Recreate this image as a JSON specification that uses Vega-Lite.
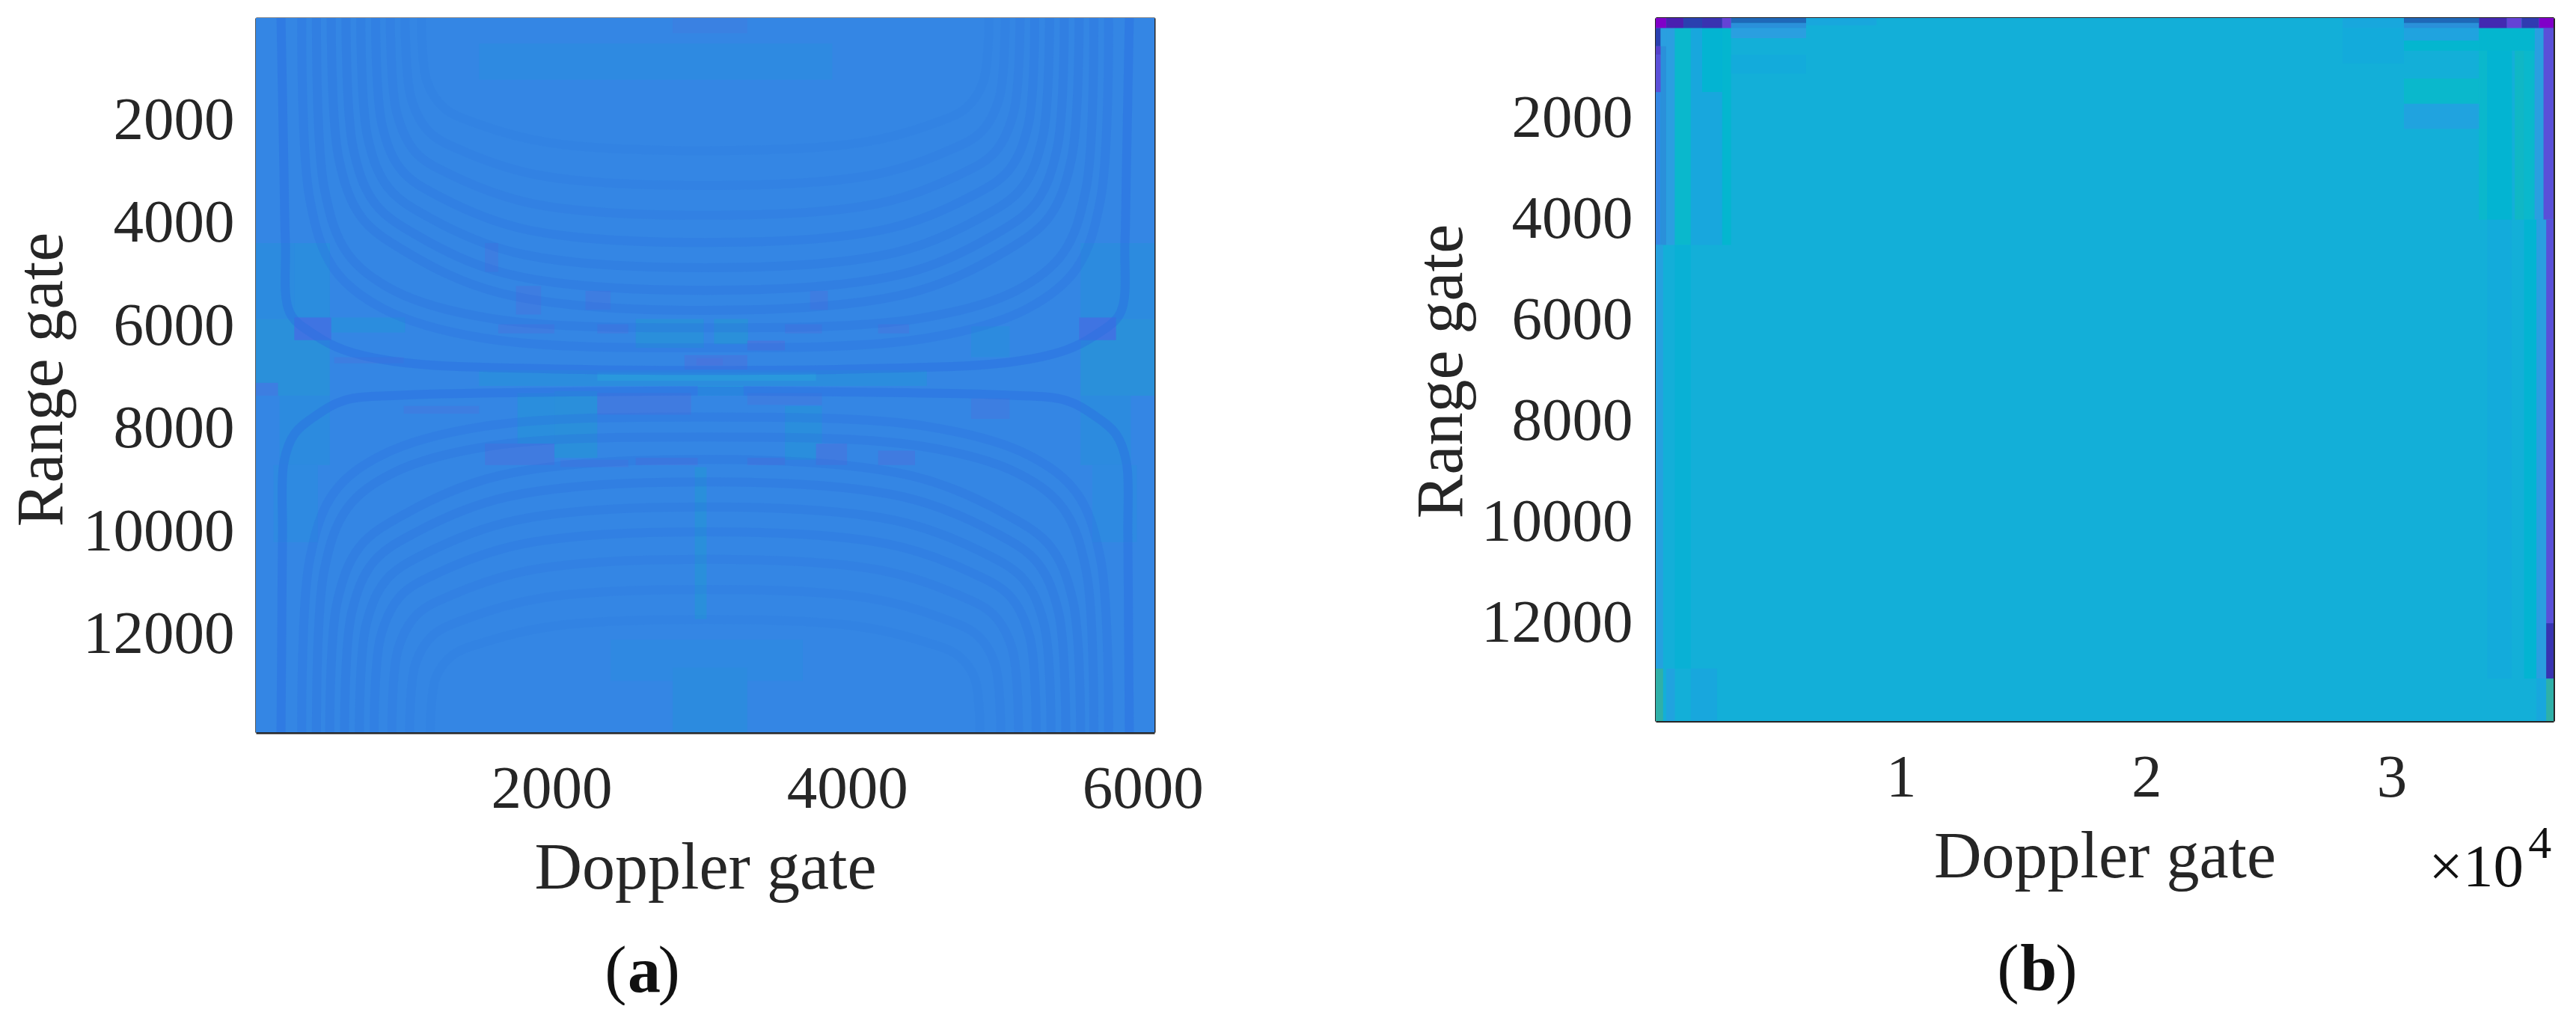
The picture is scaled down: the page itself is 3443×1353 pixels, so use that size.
{"$schema":"https://vega.github.io/schema/vega-lite/v6.json","background":"white","padding":{"left":12,"top":22,"right":0,"bottom":0},"spacing":274,"config":{"view":{"stroke":null},"font":"Liberation Serif","axis":{"labelFont":"Liberation Serif","titleFont":"Liberation Serif","labelFontSize":81,"titleFontSize":88,"labelColor":"#262626","titleColor":"#262626","titleFontWeight":"normal","domainColor":"#262626","tickColor":"#262626","grid":false,"tickSize":-12,"tickWidth":2.5,"zindex":1,"labelOverlap":false,"labelFlush":false,"labelLimit":500}},
"datasets":{
"aCells":[
{"x":0,"x2":6080,"y":0,"y2":13900,"v":0.42},
{"x":2820,"x2":3325,"y":0,"y2":300,"v":0.4},
{"x":1510,"x2":3900,"y":500,"y2":1200,"v":0.45},
{"x":0,"x2":500,"y":4380,"y2":5860,"v":0.46},
{"x":5580,"x2":6080,"y":4380,"y2":5860,"v":0.46},
{"x":0,"x2":500,"y":5860,"y2":7350,"v":0.5},
{"x":5580,"x2":6080,"y":5860,"y2":7350,"v":0.5},
{"x":0,"x2":150,"y":7100,"y2":7350,"v":0.39},
{"x":500,"x2":1010,"y":5830,"y2":6120,"v":0.47},
{"x":260,"x2":510,"y":5830,"y2":6270,"v":0.34},
{"x":5570,"x2":5820,"y":5830,"y2":6270,"v":0.34},
{"x":260,"x2":500,"y":4380,"y2":5800,"v":0.47},
{"x":160,"x2":500,"y":7350,"y2":8700,"v":0.46},
{"x":5580,"x2":5920,"y":7350,"y2":8700,"v":0.46},
{"x":120,"x2":420,"y":8700,"y2":10200,"v":0.45},
{"x":5660,"x2":5960,"y":8700,"y2":10200,"v":0.45},
{"x":1510,"x2":4540,"y":6850,"y2":7160,"v":0.47},
{"x":2310,"x2":3790,"y":6900,"y2":7060,"v":0.52},
{"x":2570,"x2":3030,"y":5860,"y2":6420,"v":0.49},
{"x":3100,"x2":3330,"y":5860,"y2":6350,"v":0.5},
{"x":1770,"x2":2020,"y":7300,"y2":8560,"v":0.48},
{"x":2020,"x2":2310,"y":7260,"y2":8560,"v":0.49},
{"x":3580,"x2":3830,"y":7550,"y2":8600,"v":0.48},
{"x":2990,"x2":3300,"y":7160,"y2":7350,"v":0.52},
{"x":4840,"x2":5100,"y":6000,"y2":6600,"v":0.46},
{"x":2970,"x2":3050,"y":8740,"y2":11700,"v":0.49},
{"x":2400,"x2":3700,"y":12100,"y2":12900,"v":0.44},
{"x":2820,"x2":3325,"y":12640,"y2":13900,"v":0.46},
{"x":1760,"x2":1930,"y":5215,"y2":5770,"v":0.385},
{"x":2230,"x2":2400,"y":5310,"y2":5680,"v":0.385},
{"x":1640,"x2":2020,"y":5960,"y2":6140,"v":0.385},
{"x":2310,"x2":2520,"y":5960,"y2":6140,"v":0.385},
{"x":3325,"x2":3580,"y":6280,"y2":6470,"v":0.37},
{"x":3580,"x2":3830,"y":5960,"y2":6140,"v":0.385},
{"x":3750,"x2":3870,"y":5310,"y2":5680,"v":0.385},
{"x":4210,"x2":4420,"y":5960,"y2":6140,"v":0.385},
{"x":2900,"x2":3325,"y":6560,"y2":6840,"v":0.38},
{"x":2980,"x2":3160,"y":6620,"y2":6760,"v":0.36},
{"x":1550,"x2":1640,"y":4380,"y2":4940,"v":0.39},
{"x":2310,"x2":2945,"y":7300,"y2":7720,"v":0.38},
{"x":3325,"x2":3830,"y":7300,"y2":7530,"v":0.39},
{"x":1550,"x2":2020,"y":8280,"y2":8700,"v":0.38},
{"x":2060,"x2":2520,"y":8600,"y2":8740,"v":0.39},
{"x":2570,"x2":2990,"y":8560,"y2":8700,"v":0.38},
{"x":3325,"x2":3580,"y":8560,"y2":8700,"v":0.38},
{"x":3790,"x2":4000,"y":8280,"y2":8700,"v":0.38},
{"x":4210,"x2":4460,"y":8420,"y2":8700,"v":0.38},
{"x":4840,"x2":5100,"y":7400,"y2":7800,"v":0.39},
{"x":530,"x2":1000,"y":6600,"y2":6720,"v":0.39},
{"x":1000,"x2":1510,"y":7550,"y2":7700,"v":0.39}
],
"aRings":[
{"r":"u1","s":0.85,"x":170,"y":0},{"r":"u1","s":0.85,"x":190,"y":3000},{"r":"u1","s":0.85,"x":200,"y":4374},{"r":"u1","s":0.85,"x":230,"y":5735},{"r":"u1","s":0.85,"x":400,"y":6172},{"r":"u1","s":0.85,"x":600,"y":6464},{"r":"u1","s":0.85,"x":1000,"y":6707},{"r":"u1","s":0.85,"x":2000,"y":6830},{"r":"u1","s":0.85,"x":3040,"y":6860},{"r":"u1","s":0.85,"x":4080,"y":6830},{"r":"u1","s":0.85,"x":5080,"y":6707},{"r":"u1","s":0.85,"x":5480,"y":6464},{"r":"u1","s":0.85,"x":5680,"y":6172},{"r":"u1","s":0.85,"x":5850,"y":5735},{"r":"u1","s":0.85,"x":5880,"y":4374},{"r":"u1","s":0.85,"x":5890,"y":3000},{"r":"u1","s":0.85,"x":5910,"y":0},
{"r":"u2","s":0.55,"x":310,"y":0},{"r":"u2","s":0.55,"x":365,"y":3530},{"r":"u2","s":0.55,"x":528,"y":4880},{"r":"u2","s":0.55,"x":856,"y":5650},{"r":"u2","s":0.55,"x":1538,"y":6230},{"r":"u2","s":0.55,"x":3040,"y":6420},{"r":"u2","s":0.55,"x":4542,"y":6230},{"r":"u2","s":0.55,"x":5224,"y":5650},{"r":"u2","s":0.55,"x":5552,"y":4880},{"r":"u2","s":0.55,"x":5715,"y":3530},{"r":"u2","s":0.55,"x":5770,"y":0},
{"r":"u3","s":0.5,"x":410,"y":0},{"r":"u3","s":0.5,"x":463,"y":3317},{"r":"u3","s":0.5,"x":620,"y":4583},{"r":"u3","s":0.5,"x":936,"y":5306},{"r":"u3","s":0.5,"x":1594,"y":5849},{"r":"u3","s":0.5,"x":3040,"y":6030},{"r":"u3","s":0.5,"x":4486,"y":5849},{"r":"u3","s":0.5,"x":5144,"y":5306},{"r":"u3","s":0.5,"x":5460,"y":4583},{"r":"u3","s":0.5,"x":5617,"y":3317},{"r":"u3","s":0.5,"x":5670,"y":0},
{"r":"u4","s":0.5,"x":510,"y":0},{"r":"u4","s":0.5,"x":561,"y":2731},{"r":"u4","s":0.5,"x":712,"y":3869},{"r":"u4","s":0.5,"x":1016,"y":4552},{"r":"u4","s":0.5,"x":1648,"y":5349},{"r":"u4","s":0.5,"x":3040,"y":5690},{"r":"u4","s":0.5,"x":4432,"y":5349},{"r":"u4","s":0.5,"x":5064,"y":4552},{"r":"u4","s":0.5,"x":5368,"y":3869},{"r":"u4","s":0.5,"x":5519,"y":2731},{"r":"u4","s":0.5,"x":5570,"y":0},
{"r":"u5","s":0.5,"x":610,"y":0},{"r":"u5","s":0.5,"x":659,"y":2544},{"r":"u5","s":0.5,"x":804,"y":3604},{"r":"u5","s":0.5,"x":1096,"y":4240},{"r":"u5","s":0.5,"x":1704,"y":4982},{"r":"u5","s":0.5,"x":3040,"y":5300},{"r":"u5","s":0.5,"x":4376,"y":4982},{"r":"u5","s":0.5,"x":4984,"y":4240},{"r":"u5","s":0.5,"x":5276,"y":3604},{"r":"u5","s":0.5,"x":5421,"y":2544},{"r":"u5","s":0.5,"x":5470,"y":0},
{"r":"u6","s":0.45,"x":710,"y":0},{"r":"u6","s":0.45,"x":757,"y":2333},{"r":"u6","s":0.45,"x":896,"y":3305},{"r":"u6","s":0.45,"x":1176,"y":3888},{"r":"u6","s":0.45,"x":1758,"y":4568},{"r":"u6","s":0.45,"x":3040,"y":4860},{"r":"u6","s":0.45,"x":4322,"y":4568},{"r":"u6","s":0.45,"x":4904,"y":3888},{"r":"u6","s":0.45,"x":5184,"y":3305},{"r":"u6","s":0.45,"x":5323,"y":2333},{"r":"u6","s":0.45,"x":5370,"y":0},
{"r":"u7","s":0.4,"x":810,"y":0},{"r":"u7","s":0.4,"x":855,"y":2098},{"r":"u7","s":0.4,"x":988,"y":2972},{"r":"u7","s":0.4,"x":1256,"y":3496},{"r":"u7","s":0.4,"x":1814,"y":4108},{"r":"u7","s":0.4,"x":3040,"y":4370},{"r":"u7","s":0.4,"x":4266,"y":4108},{"r":"u7","s":0.4,"x":4824,"y":3496},{"r":"u7","s":0.4,"x":5092,"y":2972},{"r":"u7","s":0.4,"x":5225,"y":2098},{"r":"u7","s":0.4,"x":5270,"y":0},
{"r":"u8","s":0.33,"x":910,"y":0},{"r":"u8","s":0.33,"x":953,"y":1843},{"r":"u8","s":0.33,"x":1080,"y":2611},{"r":"u8","s":0.33,"x":1336,"y":3072},{"r":"u8","s":0.33,"x":1868,"y":3610},{"r":"u8","s":0.33,"x":3040,"y":3840},{"r":"u8","s":0.33,"x":4212,"y":3610},{"r":"u8","s":0.33,"x":4744,"y":3072},{"r":"u8","s":0.33,"x":5000,"y":2611},{"r":"u8","s":0.33,"x":5127,"y":1843},{"r":"u8","s":0.33,"x":5170,"y":0},
{"r":"u9","s":0.25,"x":1010,"y":0},{"r":"u9","s":0.25,"x":1051,"y":1565},{"r":"u9","s":0.25,"x":1172,"y":2217},{"r":"u9","s":0.25,"x":1416,"y":2608},{"r":"u9","s":0.25,"x":1924,"y":3064},{"r":"u9","s":0.25,"x":3040,"y":3260},{"r":"u9","s":0.25,"x":4156,"y":3064},{"r":"u9","s":0.25,"x":4664,"y":2608},{"r":"u9","s":0.25,"x":4908,"y":2217},{"r":"u9","s":0.25,"x":5029,"y":1565},{"r":"u9","s":0.25,"x":5070,"y":0},
{"r":"u10","s":0.18,"x":1120,"y":0},{"r":"u10","s":0.18,"x":1158,"y":1238},{"r":"u10","s":0.18,"x":1274,"y":1754},{"r":"u10","s":0.18,"x":1504,"y":2064},{"r":"u10","s":0.18,"x":1984,"y":2425},{"r":"u10","s":0.18,"x":3040,"y":2580},{"r":"u10","s":0.18,"x":4096,"y":2425},{"r":"u10","s":0.18,"x":4576,"y":2064},{"r":"u10","s":0.18,"x":4806,"y":1754},{"r":"u10","s":0.18,"x":4922,"y":1238},{"r":"u10","s":0.18,"x":4960,"y":0},
{"r":"l1","s":0.85,"x":170,"y":13900},{"r":"l1","s":0.85,"x":175,"y":12000},{"r":"l1","s":0.85,"x":180,"y":10050},{"r":"l1","s":0.85,"x":190,"y":8640},{"r":"l1","s":0.85,"x":260,"y":8100},{"r":"l1","s":0.85,"x":400,"y":7750},{"r":"l1","s":0.85,"x":600,"y":7440},{"r":"l1","s":0.85,"x":1000,"y":7340},{"r":"l1","s":0.85,"x":2000,"y":7280},{"r":"l1","s":0.85,"x":3040,"y":7260},{"r":"l1","s":0.85,"x":4080,"y":7280},{"r":"l1","s":0.85,"x":5080,"y":7340},{"r":"l1","s":0.85,"x":5480,"y":7440},{"r":"l1","s":0.85,"x":5680,"y":7750},{"r":"l1","s":0.85,"x":5820,"y":8100},{"r":"l1","s":0.85,"x":5890,"y":8640},{"r":"l1","s":0.85,"x":5900,"y":10050},{"r":"l1","s":0.85,"x":5905,"y":12000},{"r":"l1","s":0.85,"x":5910,"y":13900},
{"r":"l2","s":0.55,"x":310,"y":13900},{"r":"l2","s":0.55,"x":365,"y":10526},{"r":"l2","s":0.55,"x":528,"y":9237},{"r":"l2","s":0.55,"x":856,"y":8501},{"r":"l2","s":0.55,"x":1538,"y":7949},{"r":"l2","s":0.55,"x":3040,"y":7765},{"r":"l2","s":0.55,"x":4542,"y":7949},{"r":"l2","s":0.55,"x":5224,"y":8501},{"r":"l2","s":0.55,"x":5552,"y":9237},{"r":"l2","s":0.55,"x":5715,"y":10526},{"r":"l2","s":0.55,"x":5770,"y":13900},
{"r":"l3","s":0.5,"x":410,"y":13900},{"r":"l3","s":0.5,"x":463,"y":10740},{"r":"l3","s":0.5,"x":620,"y":9533},{"r":"l3","s":0.5,"x":936,"y":8844},{"r":"l3","s":0.5,"x":1594,"y":8326},{"r":"l3","s":0.5,"x":3040,"y":8154},{"r":"l3","s":0.5,"x":4486,"y":8326},{"r":"l3","s":0.5,"x":5144,"y":8844},{"r":"l3","s":0.5,"x":5460,"y":9533},{"r":"l3","s":0.5,"x":5617,"y":10740},{"r":"l3","s":0.5,"x":5670,"y":13900},
{"r":"l4","s":0.5,"x":500,"y":13900},{"r":"l4","s":0.5,"x":551,"y":11352},{"r":"l4","s":0.5,"x":703,"y":10290},{"r":"l4","s":0.5,"x":1008,"y":9653},{"r":"l4","s":0.5,"x":1643,"y":8910},{"r":"l4","s":0.5,"x":3040,"y":8591},{"r":"l4","s":0.5,"x":4437,"y":8910},{"r":"l4","s":0.5,"x":5072,"y":9653},{"r":"l4","s":0.5,"x":5377,"y":10290},{"r":"l4","s":0.5,"x":5529,"y":11352},{"r":"l4","s":0.5,"x":5580,"y":13900},
{"r":"l5","s":0.5,"x":600,"y":13900},{"r":"l5","s":0.5,"x":649,"y":11562},{"r":"l5","s":0.5,"x":795,"y":10588},{"r":"l5","s":0.5,"x":1088,"y":10003},{"r":"l5","s":0.5,"x":1698,"y":9321},{"r":"l5","s":0.5,"x":3040,"y":9029},{"r":"l5","s":0.5,"x":4382,"y":9321},{"r":"l5","s":0.5,"x":4992,"y":10003},{"r":"l5","s":0.5,"x":5285,"y":10588},{"r":"l5","s":0.5,"x":5431,"y":11562},{"r":"l5","s":0.5,"x":5480,"y":13900},
{"r":"l6","s":0.45,"x":700,"y":13900},{"r":"l6","s":0.45,"x":747,"y":11795},{"r":"l6","s":0.45,"x":887,"y":10918},{"r":"l6","s":0.45,"x":1168,"y":10392},{"r":"l6","s":0.45,"x":1753,"y":9778},{"r":"l6","s":0.45,"x":3040,"y":9515},{"r":"l6","s":0.45,"x":4327,"y":9778},{"r":"l6","s":0.45,"x":4912,"y":10392},{"r":"l6","s":0.45,"x":5193,"y":10918},{"r":"l6","s":0.45,"x":5333,"y":11795},{"r":"l6","s":0.45,"x":5380,"y":13900},
{"r":"l7","s":0.4,"x":800,"y":13900},{"r":"l7","s":0.4,"x":845,"y":12028},{"r":"l7","s":0.4,"x":979,"y":11248},{"r":"l7","s":0.4,"x":1248,"y":10780},{"r":"l7","s":0.4,"x":1808,"y":10234},{"r":"l7","s":0.4,"x":3040,"y":10000},{"r":"l7","s":0.4,"x":4272,"y":10234},{"r":"l7","s":0.4,"x":4832,"y":10780},{"r":"l7","s":0.4,"x":5101,"y":11248},{"r":"l7","s":0.4,"x":5235,"y":12028},{"r":"l7","s":0.4,"x":5280,"y":13900},
{"r":"l8","s":0.33,"x":920,"y":13900},{"r":"l8","s":0.33,"x":962,"y":12285},{"r":"l8","s":0.33,"x":1090,"y":11612},{"r":"l8","s":0.33,"x":1344,"y":11208},{"r":"l8","s":0.33,"x":1874,"y":10737},{"r":"l8","s":0.33,"x":3040,"y":10535},{"r":"l8","s":0.33,"x":4206,"y":10737},{"r":"l8","s":0.33,"x":4736,"y":11208},{"r":"l8","s":0.33,"x":4990,"y":11612},{"r":"l8","s":0.33,"x":5118,"y":12285},{"r":"l8","s":0.33,"x":5160,"y":13900},
{"r":"l9","s":0.25,"x":1040,"y":13900},{"r":"l9","s":0.25,"x":1080,"y":12565},{"r":"l9","s":0.25,"x":1200,"y":12009},{"r":"l9","s":0.25,"x":1440,"y":11675},{"r":"l9","s":0.25,"x":1940,"y":11286},{"r":"l9","s":0.25,"x":3040,"y":11119},{"r":"l9","s":0.25,"x":4140,"y":11286},{"r":"l9","s":0.25,"x":4640,"y":11675},{"r":"l9","s":0.25,"x":4880,"y":12009},{"r":"l9","s":0.25,"x":5000,"y":12565},{"r":"l9","s":0.25,"x":5040,"y":13900},
{"r":"l10","s":0.18,"x":1180,"y":13900},{"r":"l10","s":0.18,"x":1217,"y":12845},{"r":"l10","s":0.18,"x":1329,"y":12405},{"r":"l10","s":0.18,"x":1552,"y":12142},{"r":"l10","s":0.18,"x":2017,"y":11834},{"r":"l10","s":0.18,"x":3040,"y":11702},{"r":"l10","s":0.18,"x":4063,"y":11834},{"r":"l10","s":0.18,"x":4528,"y":12142},{"r":"l10","s":0.18,"x":4751,"y":12405},{"r":"l10","s":0.18,"x":4863,"y":12845},{"r":"l10","s":0.18,"x":4900,"y":13900}
],
"aText":[{"t":"(","x":2435,"y":18570,"b":"n"},{"t":"a","x":2628,"y":18570,"b":"b"},{"t":")","x":2795,"y":18570,"b":"n"}],
"bCells":[
{"x":0,"x2":36600,"y":0,"y2":13940,"v":0.62},
{"x":0,"x2":200,"y":200,"y2":4500,"v":0.42},
{"x":200,"x2":430,"y":200,"y2":4500,"v":0.5},
{"x":430,"x2":780,"y":200,"y2":4500,"v":0.54},
{"x":780,"x2":1430,"y":200,"y2":4500,"v":0.7},
{"x":1430,"x2":2710,"y":200,"y2":4500,"v":0.58},
{"x":2710,"x2":3070,"y":200,"y2":4500,"v":0.68},
{"x":0,"x2":300,"y":4500,"y2":12900,"v":0.55},
{"x":780,"x2":1430,"y":4500,"y2":12900,"v":0.64},
{"x":0,"x2":300,"y":12900,"y2":13940,"v":0.8},
{"x":430,"x2":780,"y":12900,"y2":13940,"v":0.56},
{"x":1430,"x2":2500,"y":12900,"y2":13940,"v":0.58},
{"x":33560,"x2":33900,"y":200,"y2":4000,"v":0.7},
{"x":33900,"x2":34900,"y":200,"y2":4000,"v":0.66},
{"x":35020,"x2":35400,"y":200,"y2":4000,"v":0.72},
{"x":35400,"x2":35830,"y":200,"y2":4000,"v":0.7},
{"x":35830,"x2":36190,"y":200,"y2":4000,"v":0.54},
{"x":36190,"x2":36600,"y":200,"y2":4000,"v":0.07},
{"x":33900,"x2":34900,"y":4000,"y2":13100,"v":0.6},
{"x":35400,"x2":35900,"y":4000,"y2":13100,"v":0.66},
{"x":35900,"x2":36300,"y":4000,"y2":13100,"v":0.54},
{"x":36300,"x2":36600,"y":4000,"y2":12000,"v":0.07},
{"x":36300,"x2":36600,"y":12000,"y2":13100,"v":0.15},
{"x":35900,"x2":36300,"y":13100,"y2":13940,"v":0.58},
{"x":36300,"x2":36600,"y":13100,"y2":13940,"v":0.8},
{"x":0,"x2":200,"y":200,"y2":560,"v":0.2},
{"x":0,"x2":200,"y":560,"y2":730,"v":0.08},
{"x":0,"x2":200,"y":730,"y2":1470,"v":0.07},
{"x":200,"x2":430,"y":200,"y2":560,"v":0.54},
{"x":3070,"x2":6130,"y":200,"y2":400,"v":0.54},
{"x":3070,"x2":6130,"y":730,"y2":1100,"v":0.6},
{"x":1890,"x2":2710,"y":200,"y2":1470,"v":0.66},
{"x":30500,"x2":33560,"y":200,"y2":450,"v":0.56},
{"x":30500,"x2":33560,"y":450,"y2":650,"v":0.68},
{"x":30500,"x2":33560,"y":1200,"y2":1700,"v":0.7},
{"x":30500,"x2":33560,"y":1700,"y2":2200,"v":0.56},
{"x":33560,"x2":35830,"y":200,"y2":650,"v":0.68},
{"x":28000,"x2":30500,"y":200,"y2":900,"v":0.6},
{"x":6130,"x2":9000,"y":0,"y2":150,"v":0.58},
{"x":28000,"x2":30500,"y":0,"y2":200,"v":0.58},
{"x":3070,"x2":6130,"y":100,"y2":200,"v":0.5},
{"x":3070,"x2":6130,"y":0,"y2":100,"v":0.25},
{"x":30500,"x2":33560,"y":100,"y2":200,"v":0.5},
{"x":30500,"x2":33560,"y":0,"y2":100,"v":0.25},
{"x":0,"x2":430,"y":0,"y2":200,"v":0},
{"x":430,"x2":1130,"y":0,"y2":200,"v":0.1},
{"x":1130,"x2":1890,"y":0,"y2":200,"v":0.2},
{"x":1890,"x2":2710,"y":0,"y2":200,"v":0.15},
{"x":2710,"x2":3070,"y":0,"y2":200,"v":0.05},
{"x":33560,"x2":34700,"y":0,"y2":200,"v":0.12},
{"x":34700,"x2":35300,"y":0,"y2":200,"v":0.05},
{"x":35300,"x2":36000,"y":0,"y2":200,"v":0.18},
{"x":36000,"x2":36600,"y":0,"y2":200,"v":0}
],
"bText":[{"t":"(","x":14360,"y":18900,"b":"n","f":88},{"t":"b","x":15610,"y":18900,"b":"b","f":88},{"t":")","x":16740,"y":18900,"b":"n","f":88},{"t":"×10","x":33445,"y":16855,"b":"x","f":81},{"t":"4","x":36040,"y":16365,"b":"s","f":62}]
},
"hconcat":[
{"width":1201,"height":955,
"resolve":{"axis":{"x":"independent","y":"independent"}},
"layer":[
{"data":{"name":"aCells"},"mark":{"type":"rect","stroke":null},
"encoding":{"x":{"field":"x","type":"quantitative","scale":{"domain":[0,6080],"nice":false,"zero":false},"axis":{"values":[2000,4000,6000],"title":"Doppler gate","domainWidth":4,"labelPadding":48,"titlePadding":22,"format":"d"}},"x2":{"field":"x2"},"y":{"field":"y","type":"quantitative","scale":{"domain":[0,13900],"reverse":true,"nice":false,"zero":false},"axis":{"values":[2000,4000,6000,8000,10000,12000],"title":"Range gate","domainWidth":2.5,"labelPadding":41,"format":"d","titleX":-242,"titleY":483}},"y2":{"field":"y2"},"color":{"field":"v","type":"quantitative","legend":null,"scale":{"domain":[0,0.07,0.1,0.2,0.25,0.3,0.36,0.42,0.5,0.54,0.62,0.7,0.8,1],"range":["#8000c8","#5a50d8","#4a20b0","#2a40b0","#1f68b8","#2f70ea","#4676de","#3486e4","#2a90da","#2a9fe0","#13afd8","#0ab8cc","#2fb0a8","#60a890"]}}}},
{"data":{"name":"aRings"},"mark":{"type":"line","interpolate":"catmull-rom","strokeWidth":12,"stroke":"#2a6fe0","clip":true},
"encoding":{"x":{"field":"x","type":"quantitative","scale":{"domain":[0,6080],"nice":false,"zero":false},"axis":null},"y":{"field":"y","type":"quantitative","scale":{"domain":[0,13900],"reverse":true,"nice":false,"zero":false},"axis":null},"detail":{"field":"r"},"opacity":{"field":"s","type":"quantitative","legend":null,"scale":{"domain":[0,1],"range":[0,0.55]}}}},
{"data":{"name":"aText"},"transform":[{"filter":"datum.b=='n'"}],"mark":{"type":"text","font":"Liberation Serif","fontSize":88,"color":"#111111","baseline":"middle","align":"center","clip":false},
"encoding":{"x":{"field":"x","type":"quantitative","scale":{"domain":[0,6080],"nice":false,"zero":false},"axis":{"orient":"top","values":[2000,4000,6000],"labels":false,"title":null,"domainWidth":2}},"y":{"field":"y","type":"quantitative","scale":{"domain":[0,13900],"reverse":true,"nice":false,"zero":false},"axis":{"orient":"right","values":[2000,4000,6000,8000,10000,12000],"labels":false,"title":null,"domainWidth":2}},"text":{"field":"t"}}},
{"data":{"name":"aText"},"transform":[{"filter":"datum.b=='b'"}],"mark":{"type":"text","font":"Liberation Serif","fontSize":88,"fontWeight":"bold","color":"#111111","baseline":"middle","align":"center","clip":false},
"encoding":{"x":{"field":"x","type":"quantitative","scale":{"domain":[0,6080],"nice":false,"zero":false},"axis":null},"y":{"field":"y","type":"quantitative","scale":{"domain":[0,13900],"reverse":true,"nice":false,"zero":false},"axis":null},"text":{"field":"t"}}}
]},
{"width":1200,"height":940,
"resolve":{"axis":{"x":"independent","y":"independent"}},
"layer":[
{"data":{"name":"bCells"},"mark":{"type":"rect","stroke":null},
"encoding":{"x":{"field":"x","type":"quantitative","scale":{"domain":[0,36600],"nice":false,"zero":false},"axis":{"values":[10000,20000,30000],"labelExpr":"datum.value/10000","title":"Doppler gate","domainWidth":3,"labelPadding":48,"titlePadding":22,"tickWidth":2}},"x2":{"field":"x2"},"y":{"field":"y","type":"quantitative","scale":{"domain":[0,13940],"reverse":true,"nice":false,"zero":false},"axis":{"values":[2000,4000,6000,8000,10000,12000],"title":"Range gate","domainWidth":3,"labelPadding":43,"format":"d","titleX":-242,"titleY":472}},"y2":{"field":"y2"},"color":{"field":"v","type":"quantitative","legend":null,"scale":{"domain":[0,0.07,0.1,0.2,0.25,0.3,0.36,0.42,0.5,0.54,0.62,0.7,0.8,1],"range":["#8000c8","#5a50d8","#4a20b0","#2a40b0","#1f68b8","#2f70ea","#4676de","#3486e4","#2a90da","#2a9fe0","#13afd8","#0ab8cc","#2fb0a8","#60a890"]}}}},
{"data":{"name":"bText"},"transform":[{"filter":"datum.b!='b'"}],"mark":{"type":"text","font":"Liberation Serif","color":"#111111","baseline":"middle","align":"center","clip":false},
"encoding":{"x":{"field":"x","type":"quantitative","scale":{"domain":[0,36600],"nice":false,"zero":false},"axis":{"orient":"top","values":[10000,20000,30000],"labels":false,"title":null,"domainWidth":3,"tickWidth":2}},"y":{"field":"y","type":"quantitative","scale":{"domain":[0,13940],"reverse":true,"nice":false,"zero":false},"axis":{"orient":"right","values":[2000,4000,6000,8000,10000,12000],"labels":false,"title":null,"domainWidth":3}},"text":{"field":"t"},"size":{"field":"f","type":"quantitative","scale":null,"legend":null}}},
{"data":{"name":"bText"},"transform":[{"filter":"datum.b=='b'"}],"mark":{"type":"text","font":"Liberation Serif","fontSize":88,"fontWeight":"bold","color":"#111111","baseline":"middle","align":"center","clip":false},
"encoding":{"x":{"field":"x","type":"quantitative","scale":{"domain":[0,36600],"nice":false,"zero":false},"axis":null},"y":{"field":"y","type":"quantitative","scale":{"domain":[0,13940],"reverse":true,"nice":false,"zero":false},"axis":null},"text":{"field":"t"}}}
]}
]}
